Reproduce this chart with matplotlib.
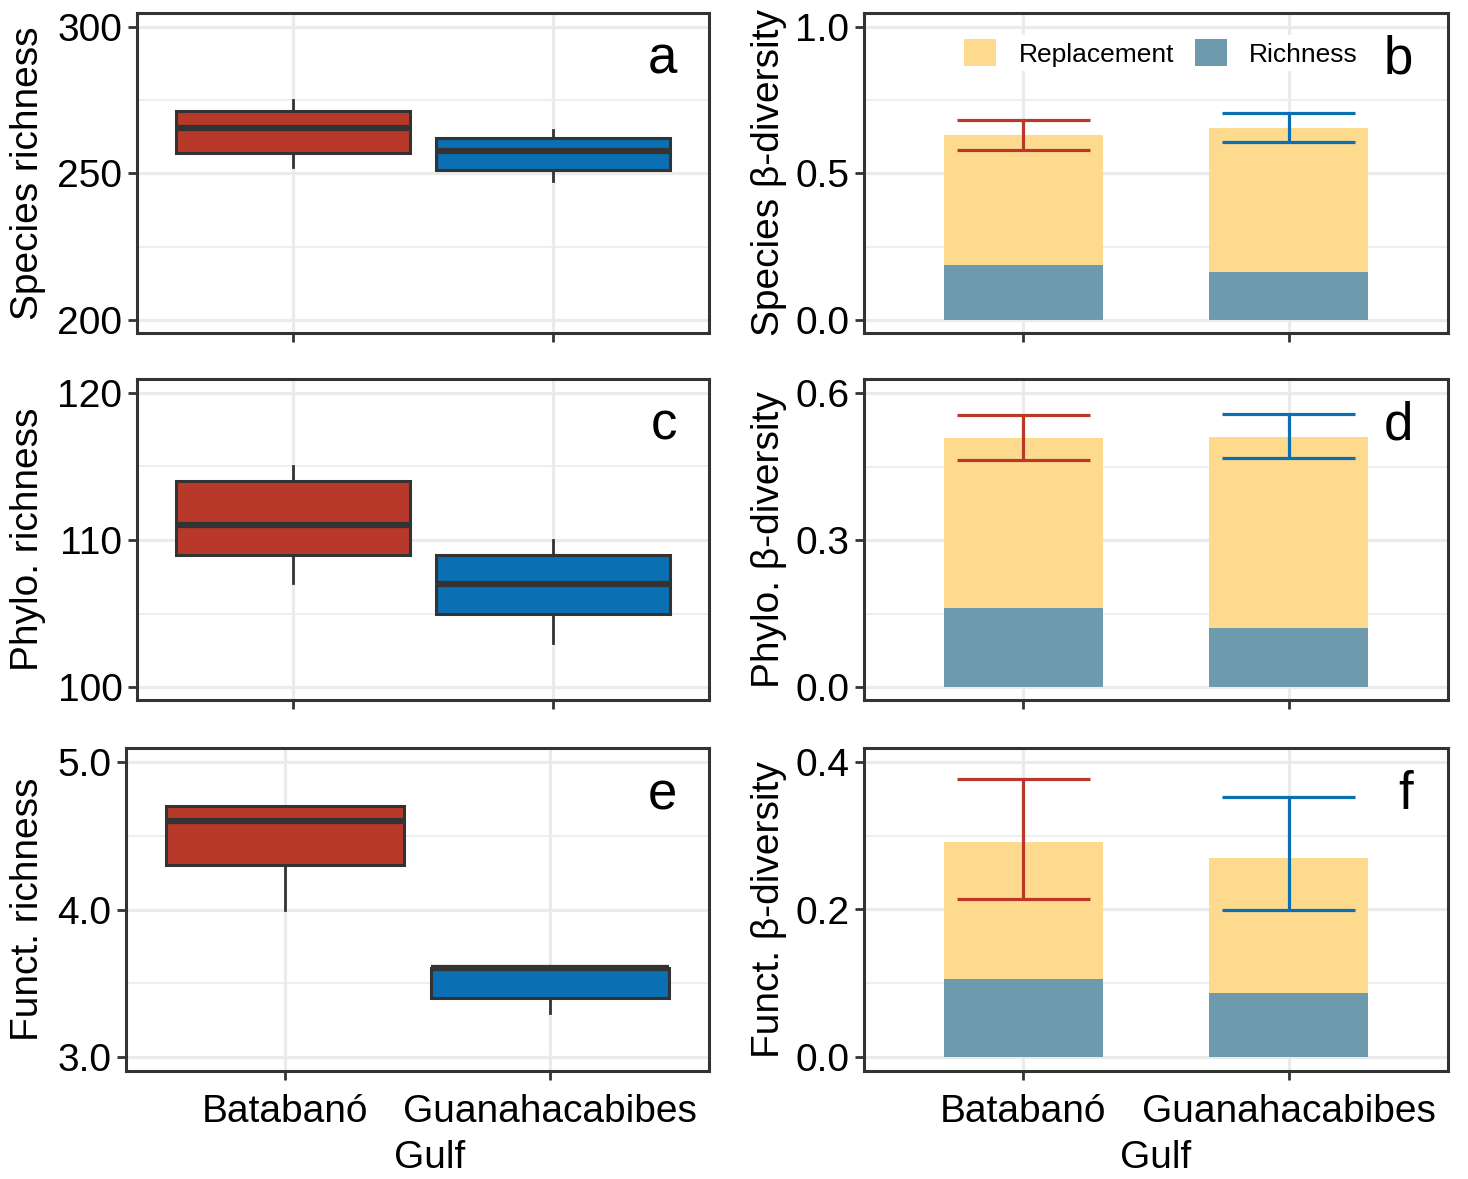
import numpy as np
import matplotlib
matplotlib.use('Agg')
import matplotlib.pyplot as plt
from matplotlib.patches import Patch

plt.rcParams['font.family'] = ['Liberation Sans', 'DejaVu Sans']

# ---- data ----
gulfs = ['Batabanó', 'Guanahacabibes']
box_cols = ['#B8392A', '#0A6FB3']

# boxplot stats per gulf: whislo, q1, med, q3, whishi
sp_rich = [(252.2, 257.0, 265.5, 271.3, 275.1), (247.4, 251.2, 257.7, 262.0, 264.8)]
ph_rich = [(107.1, 109.0, 111.0, 114.0, 115.0), (103.0, 105.0, 107.0, 109.0, 110.0)]
fu_rich = [(4.0, 4.3, 4.6, 4.7, 4.7), (3.3, 3.4, 3.6, 3.6, 3.6)]

# stacked beta-diversity components (richness + replacement) and error bar limits
sp_beta_rich = [0.188, 0.164]
sp_beta_repl = [0.443, 0.491]
sp_beta_err = [(0.580, 0.683), (0.607, 0.706)]

ph_beta_rich = [0.161, 0.120]
ph_beta_repl = [0.347, 0.390]
ph_beta_err = [(0.463, 0.555), (0.467, 0.557)]

fu_beta_rich = [0.106, 0.087]
fu_beta_repl = [0.186, 0.183]
fu_beta_err = [(0.214, 0.377), (0.199, 0.3525)]

col_repl = '#FEDA8F'
col_rich = '#6E9AAE'
grid_col = '#EBEBEB'
dark = '#333333'
FS = 28

W, H = 1468, 1179
fig = plt.figure(figsize=(W / 100, H / 100), dpi=100)

def add_ax(x0, x1, y0, y1):
    return fig.add_axes([x0 / W, 1 - y1 / H, (x1 - x0) / W, (y1 - y0) / H])

rows = [(13, 333), (379, 700), (748, 1071)]
ax_a = add_ax(137, 709, *rows[0])
ax_c = add_ax(137, 709, *rows[1])
ax_e = add_ax(126, 709, *rows[2])
ax_b = add_ax(864, 1448, *rows[0])
ax_d = add_ax(864, 1448, *rows[1])
ax_f = add_ax(864, 1448, *rows[2])

def style(ax, ylim, yticks, minor, letter, lx=0.945):
    ax.set_xlim(0.4, 2.6)
    ax.set_ylim(*ylim)
    ax.set_xticks([1, 2])
    ax.set_yticks(yticks)
    for m in minor:
        ax.axhline(m, color=grid_col, lw=1.2, zorder=0)
    for t in yticks:
        ax.axhline(t, color=grid_col, lw=2.3, zorder=0)
    for x in [1, 2]:
        ax.axvline(x, color=grid_col, lw=2.3, zorder=0)
    for s in ax.spines.values():
        s.set_color(dark)
        s.set_linewidth(2.2)
    ax.tick_params(axis='both', length=6.5, width=2.0, color=dark,
                   labelsize=FS, pad=4, labelcolor='black')
    ax.set_xticklabels([])
    ax.text(lx, 0.81, letter, transform=ax.transAxes, ha='right',
            va='baseline', fontsize=38)

def boxes(ax, stats):
    st = [dict(whislo=s[0], q1=s[1], med=s[2], q3=s[3], whishi=s[4]) for s in stats]
    bp = ax.bxp(st, positions=[1, 2], widths=0.9, patch_artist=True,
                showcaps=False, showfliers=False,
                boxprops=dict(edgecolor=dark, linewidth=2.2),
                medianprops=dict(color=dark, linewidth=4.5, solid_capstyle='butt'),
                whiskerprops=dict(color=dark, linewidth=2.0))
    for p, c in zip(bp['boxes'], box_cols):
        p.set_facecolor(c)
        p.set_zorder(2)

def stacks(ax, rich, repl, err):
    x = np.array([1, 2])
    ax.bar(x, rich, width=0.6, color=col_rich, zorder=2)
    ax.bar(x, repl, bottom=rich, width=0.6, color=col_repl, zorder=2)
    for xi, (lo, hi), c in zip(x, err, box_cols):
        ax.vlines(xi, lo, hi, color=c, lw=2.3, zorder=3)
        ax.hlines([lo, hi], xi - 0.25, xi + 0.25, color=c, lw=2.3, zorder=3)

boxes(ax_a, sp_rich)
style(ax_a, (195.56, 304.78), [200, 250, 300], [225, 275], 'a')
ax_a.set_ylabel('Species richness', fontsize=FS, labelpad=8)

boxes(ax_c, ph_rich)
style(ax_c, (99.12, 120.95), [100, 110, 120], [105, 115], 'c')
ax_c.set_ylabel('Phylo. richness', fontsize=FS, labelpad=8)

boxes(ax_e, fu_rich)
style(ax_e, (2.905, 5.095), [3.0, 4.0, 5.0], [3.5, 4.5], 'e')
ax_e.set_yticklabels(['3.0', '4.0', '5.0'])
ax_e.set_ylabel('Funct. richness', fontsize=FS, labelpad=8)

stacks(ax_b, sp_beta_rich, sp_beta_repl, sp_beta_err)
style(ax_b, (-0.0444, 1.0478), [0.0, 0.5, 1.0], [0.25, 0.75], 'b', lx=0.94)
ax_b.set_yticklabels(['0.0', '0.5', '1.0'])
ax_b.set_ylabel('Species β-diversity', fontsize=FS, labelpad=6)
handles = [Patch(facecolor=col_repl, label='Replacement'),
           Patch(facecolor=col_rich, label='Richness')]
leg = ax_b.legend(handles=handles, ncol=2, loc='center left',
                  bbox_to_anchor=(0.165, 0.875), fontsize=19, frameon=True,
                  handlelength=1.2, handleheight=1.2, handletextpad=0.85,
                  columnspacing=0.8, borderpad=0.15, borderaxespad=0)
leg.get_frame().set_facecolor('white')
leg.get_frame().set_edgecolor('none')
leg.get_frame().set_alpha(1)
leg.set_zorder(5)

stacks(ax_d, ph_beta_rich, ph_beta_repl, ph_beta_err)
style(ax_d, (-0.0265, 0.6286), [0.0, 0.3, 0.6], [0.15, 0.45], 'd', lx=0.94)
ax_d.set_yticklabels(['0.0', '0.3', '0.6'])
ax_d.set_ylabel('Phylo. β-diversity', fontsize=FS, labelpad=6)

stacks(ax_f, fu_beta_rich, fu_beta_repl, fu_beta_err)
style(ax_f, (-0.019, 0.419), [0.0, 0.2, 0.4], [0.1, 0.3], 'f', lx=0.94)
ax_f.set_yticklabels(['0.0', '0.2', '0.4'])
ax_f.set_ylabel('Funct. β-diversity', fontsize=FS, labelpad=6)

for ax in (ax_e, ax_f):
    ax.set_xticklabels(gulfs)
    ax.tick_params(axis='x', pad=10)
    ax.set_xlabel('Gulf', fontsize=FS, labelpad=7)
ax_e.xaxis.label.set_x(0.52)

fig.savefig('out.png', dpi=100)
